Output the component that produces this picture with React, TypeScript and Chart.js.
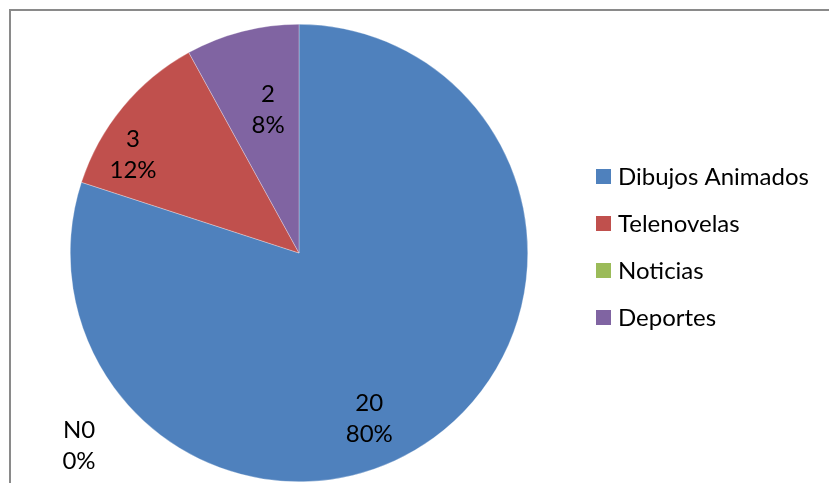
import React, { useEffect, useRef } from "react";
import { Chart, registerables } from "chart.js";

Chart.register(...registerables);

const categories = ["Dibujos Animados", "Telenovelas", "Noticias", "Deportes"];
const values = [20, 3, 0, 2];
const percentLabels = ["80%", "12%", "0%", "8%"];
const valueLabels = ["20", "3", "N0", "2"];
const colors = ["#4F81BD", "#C0504D", "#9BBB59", "#8064A2"];

// label placement: angle (deg clockwise from top) and radius fraction
const labelPlacement = [
  { angle: 157, r: 0.786 },
  { angle: 300.6, r: 0.843 },
  { angle: 228.7, r: 1.28 },
  { angle: 347.8, r: 0.64 },
];

const FONT = "Lato, 'Open Sans', sans-serif";

const overlayPlugin = {
  id: "overlay",
  beforeDraw(chart: any) {
    const ctx = chart.ctx;
    ctx.save();
    ctx.fillStyle = "#ffffff";
    ctx.fillRect(0, 0, chart.width, chart.height);
    ctx.fillStyle = "#8a8a8a";
    ctx.fillRect(9, 9, chart.width, 2);
    ctx.fillRect(9, 9, 2, chart.height);
    ctx.restore();
  },
  afterDraw(chart: any) {
    const ctx = chart.ctx;
    const meta = chart.getDatasetMeta(0);
    ctx.save();
    ctx.font = `24px ${FONT}`;
    ctx.fillStyle = "#000000";
    ctx.textAlign = "center";
    ctx.textBaseline = "middle";
    meta.data.forEach((arc: any, i: number) => {
      const p = labelPlacement[i];
      const a = (p.angle * Math.PI) / 180;
      const rr = arc.outerRadius * p.r;
      const x = arc.x + Math.sin(a) * rr;
      const y = arc.y - Math.cos(a) * rr;
      ctx.fillText(valueLabels[i], x, y - 15.5);
      ctx.fillText(percentLabels[i], x, y + 15.5);
    });
    // legend
    ctx.textAlign = "left";
    categories.forEach((c, i) => {
      const cy = 176.5 + i * 47;
      ctx.fillStyle = colors[i];
      ctx.fillRect(596, cy - 7.5, 15, 15);
      ctx.fillStyle = "#000000";
      ctx.fillText(c, 618, cy + 1);
    });
    ctx.restore();
  },
};

export default function App() {
  const ref = useRef<HTMLCanvasElement>(null);
  useEffect(() => {
    document.body.style.margin = "0";
    const chart = new Chart(ref.current!, {
      type: "pie",
      data: {
        labels: categories,
        datasets: [
          {
            data: values,
            backgroundColor: colors,
            borderColor: "rgba(255,255,255,0.6)",
            borderWidth: 0.5,
          },
        ],
      },
      options: {
        animation: false,
        responsive: false,
        layout: { padding: { left: 70, right: 301, top: 24, bottom: 1 } },
        plugins: { legend: { display: false }, tooltip: { enabled: false } },
      },
      plugins: [overlayPlugin],
    });
    return () => chart.destroy();
  }, []);
  return (
    <div style={{ width: 829, height: 483 }}>
      <canvas ref={ref} width={829} height={483} />
    </div>
  );
}
